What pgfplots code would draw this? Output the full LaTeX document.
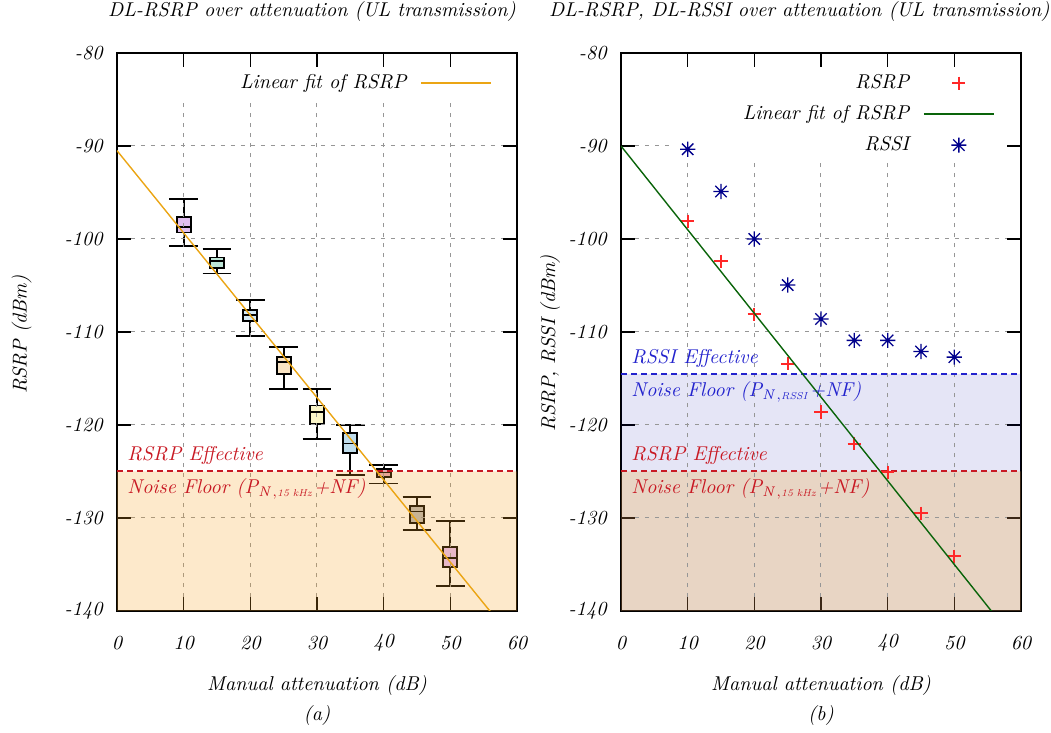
\documentclass[border=0pt]{standalone}
\usepackage{pgfplots}
\pgfplotsset{compat=1.18}
\usepgfplotslibrary{statistics}
\usepackage{xcolor}
\definecolor{fitorange}{RGB}{235,165,20}
\definecolor{fitgreen}{RGB}{10,100,10}
\definecolor{rsrpline}{RGB}{200,25,35}
\definecolor{rssiline}{RGB}{35,35,205}
\definecolor{plusmark}{RGB}{255,40,40}
\definecolor{starmark}{RGB}{0,0,140}
\definecolor{nforange}{RGB}{245,163,41}
\definecolor{lavender}{RGB}{0,0,170}
\definecolor{gridgray}{RGB}{150,150,150}
\definecolor{boxA}{RGB}{225,190,240}
\definecolor{boxB}{RGB}{190,230,215}
\definecolor{boxC}{RGB}{210,232,245}
\definecolor{boxD}{RGB}{250,228,195}
\definecolor{boxE}{RGB}{250,245,200}
\definecolor{boxF}{RGB}{190,220,235}
\definecolor{boxG}{RGB}{228,166,185}
\definecolor{boxH}{RGB}{185,185,185}
\definecolor{boxI}{RGB}{228,192,250}

% gnuplot style star: + and x together
\pgfdeclareplotmark{gpstar}{%
  \pgfpathmoveto{\pgfqpoint{-\pgfplotmarksize}{0pt}}\pgfpathlineto{\pgfqpoint{\pgfplotmarksize}{0pt}}%
  \pgfpathmoveto{\pgfqpoint{0pt}{-\pgfplotmarksize}}\pgfpathlineto{\pgfqpoint{0pt}{\pgfplotmarksize}}%
  \pgfpathmoveto{\pgfqpoint{-.75\pgfplotmarksize}{-.75\pgfplotmarksize}}\pgfpathlineto{\pgfqpoint{.75\pgfplotmarksize}{.75\pgfplotmarksize}}%
  \pgfpathmoveto{\pgfqpoint{-.75\pgfplotmarksize}{.75\pgfplotmarksize}}\pgfpathlineto{\pgfqpoint{.75\pgfplotmarksize}{-.75\pgfplotmarksize}}%
  \pgfusepathqstroke}

\tikzset{gridline/.style={dash pattern=on 2pt off 3pt, draw=gridgray, line width=0.5pt}}
\pgfplotsset{
  panel/.style={
    scale only axis, width=200pt, height=279pt,
    xmin=0, xmax=60, ymin=-140, ymax=-80,
    xtick={0,10,...,60}, ytick={-140,-130,...,-80},
    tick align=inside, major tick length=7pt,
    axis line style={line width=1pt},
    every tick/.style={black, line width=0.8pt},
    ticklabel style={font=\itshape},
    /pgf/number format/assume math mode=true,
    xticklabel style={anchor=center, yshift=-16pt},
    yticklabel style={anchor=east, xshift=-3.7pt},
    clip mode=individual,
    legend plot pos=right, legend cell align=right,
    legend style={draw=none, fill=none, inner sep=0pt, row sep=2.5pt,
      nodes={inner sep=2pt, text height=7pt, text depth=2pt, font=\itshape},
      /tikz/every odd column/.append style={column sep=5pt}},
  },
  lineleg/.style={legend image code/.code={\draw[##1] (0pt,0pt) -- (35pt,0pt);}},
  markleg/.style={legend image code/.code={\draw[##1] plot coordinates {(17.5pt,0pt)};}},
  bx/.style={forget plot, draw=black, line width=0.9pt, fill=#1,
    boxplot/draw direction=y, boxplot/box extend=2.1, boxplot/whisker extend=4.3},
}

\begin{document}
\itshape
\begin{tikzpicture}[font=\itshape]

% ---------------- (a)
\begin{axis}[panel, at={(0pt,0pt)}, anchor=south west,
  legend style={at={(axis cs:56.3,-81.8)}, anchor=north east}]
\addplot[bx=boxA, boxplot prepared={draw position=10, lower whisker=-100.75, lower quartile=-99.3, median=-98.7, upper quartile=-97.6, upper whisker=-95.7}] coordinates {};
\addplot[bx=boxB, boxplot prepared={draw position=15, lower whisker=-103.7, lower quartile=-103.1, median=-102.4, upper quartile=-102.0, upper whisker=-101.1}] coordinates {};
\addplot[bx=boxC, boxplot prepared={draw position=20, lower whisker=-110.4, lower quartile=-108.8, median=-108.2, upper quartile=-107.6, upper whisker=-106.6}] coordinates {};
\addplot[bx=boxD, boxplot prepared={draw position=25, lower whisker=-116.1, lower quartile=-114.55, median=-113.2, upper quartile=-112.65, upper whisker=-111.65}] coordinates {};
\addplot[bx=boxE, boxplot prepared={draw position=30, lower whisker=-121.5, lower quartile=-119.9, median=-118.6, upper quartile=-117.9, upper whisker=-116.1}] coordinates {};
\addplot[bx=boxF, boxplot prepared={draw position=35, lower whisker=-125.4, lower quartile=-123.0, median=-122.0, upper quartile=-120.9, upper whisker=-120.0}] coordinates {};
\addplot[bx=boxG, boxplot prepared={draw position=40, lower whisker=-126.3, lower quartile=-125.6, median=-125.1, upper quartile=-124.7, upper whisker=-124.3}] coordinates {};
\addplot[bx=boxH, boxplot prepared={draw position=45, lower whisker=-131.3, lower quartile=-130.5, median=-129.3, upper quartile=-128.7, upper whisker=-127.7}] coordinates {};
\addplot[bx=boxI, boxplot prepared={draw position=50, lower whisker=-137.3, lower quartile=-135.3, median=-134.3, upper quartile=-133.15, upper whisker=-130.3}] coordinates {};

% grid (kept out of the key area, as gnuplot does)
\draw[gridline] (axis cs:10,-138.5) -- (axis cs:10,-85.4);
\draw[gridline] (axis cs:20,-138.5) -- (axis cs:20,-85.4);
\draw[gridline] (axis cs:30,-138.5) -- (axis cs:30,-85.4);
\draw[gridline] (axis cs:40,-138.5) -- (axis cs:40,-85.4);
\draw[gridline] (axis cs:50,-138.5) -- (axis cs:50,-85.4);
\draw[gridline] (axis cs:2.1,-90) -- (axis cs:57.9,-90);
\draw[gridline] (axis cs:2.1,-100) -- (axis cs:57.9,-100);
\draw[gridline] (axis cs:2.1,-110) -- (axis cs:57.9,-110);
\draw[gridline] (axis cs:2.1,-120) -- (axis cs:57.9,-120);
\draw[gridline] (axis cs:2.1,-130) -- (axis cs:57.9,-130);

\addplot[forget plot, draw=none, fill=nforange, fill opacity=0.245]
  coordinates {(0,-125) (60,-125) (60,-140) (0,-140) (0,-125)};
\addplot[forget plot, draw=rsrpline, line width=1pt, dash pattern=on 3pt off 2pt]
  coordinates {(0,-125) (60,-125)};

\addplot[lineleg, draw=fitorange, line width=0.7pt] coordinates {(0,-90.5) (60,-143.6)};
\addlegendentry{Linear fit of RSRP}

\node[anchor=west, inner sep=0pt, text=rsrpline] at (axis cs:1.5,-123.3) {RSRP Effective};
\node[anchor=west, inner sep=0pt, text=rsrpline] at (axis cs:1.5,-126.9) {Noise Floor ($\mathit{P}_{\mathit{N},\scriptscriptstyle\mathit{15\,kHz}}$+NF)};

\node at (rel axis cs:0.4875,1.0735) {DL-RSRP over attenuation (UL transmission)};
\node at (rel axis cs:0.5,-0.1344) {Manual attenuation (dB)};
\node at (rel axis cs:0.5,-0.188) {(a)};
\node[rotate=90] at (rel axis cs:-0.2385,0.495) {RSRP (dBm)};
\end{axis}

% ---------------- (b)
\begin{axis}[panel, at={(252pt,0pt)}, anchor=south west,
  legend style={at={(axis cs:56.1,-81.8)}, anchor=north east}]
\addplot[forget plot, draw=none, fill=lavender, fill opacity=0.1]
  coordinates {(0,-114.5) (60,-114.5) (60,-140) (0,-140) (0,-114.5)};
\addplot[forget plot, draw=none, fill=nforange, fill opacity=0.245]
  coordinates {(0,-125) (60,-125) (60,-140) (0,-140) (0,-125)};

\draw[gridline] (axis cs:10,-138.5) -- (axis cs:10,-91.7);
\draw[gridline] (axis cs:20,-138.5) -- (axis cs:20,-91.7);
\draw[gridline] (axis cs:30,-138.5) -- (axis cs:30,-91.7);
\draw[gridline] (axis cs:40,-138.5) -- (axis cs:40,-91.7);
\draw[gridline] (axis cs:50,-138.5) -- (axis cs:50,-91.7);
\draw[gridline] (axis cs:2.1,-90) -- (axis cs:7.4,-90);
\draw[gridline] (axis cs:2.1,-100) -- (axis cs:57.9,-100);
\draw[gridline] (axis cs:2.1,-110) -- (axis cs:57.9,-110);
\draw[gridline] (axis cs:2.1,-120) -- (axis cs:57.9,-120);
\draw[gridline] (axis cs:2.1,-130) -- (axis cs:57.9,-130);

\addplot[forget plot, draw=rssiline, line width=0.8pt, dash pattern=on 3pt off 2pt]
  coordinates {(0,-114.5) (60,-114.5)};
\addplot[forget plot, draw=rsrpline, line width=1pt, dash pattern=on 3pt off 2pt]
  coordinates {(0,-125) (60,-125)};

\addplot[markleg, only marks, mark=+, mark size=3.3pt, draw=plusmark, mark options={draw=plusmark}, line width=0.95pt]
  coordinates {(10,-98.1) (15,-102.4) (20,-108.1) (25,-113.4) (30,-118.6) (35,-122.0) (40,-125.1) (45,-129.5) (50,-134.1)};
\addlegendentry{RSRP}
\addplot[lineleg, draw=fitgreen, line width=0.7pt] coordinates {(0,-90) (60,-144)};
\addlegendentry{Linear fit of RSRP}
\addplot[markleg, only marks, mark=gpstar, mark size=3.8pt, draw=starmark, mark options={draw=starmark}, line width=0.65pt]
  coordinates {(10,-90.35) (15,-94.9) (20,-100.0) (25,-104.95) (30,-108.6) (35,-110.9) (40,-110.9) (45,-112.1) (50,-112.7)};
\addlegendentry{RSSI}

\node[anchor=west, inner sep=0pt, text=rssiline] at (axis cs:1.5,-112.8) {RSSI Effective};
\node[anchor=west, inner sep=0pt, text=rssiline] at (axis cs:1.5,-116.45) {Noise Floor ($\mathit{P}_{\mathit{N},\scriptscriptstyle\mathit{RSSI}}$+NF)};
\node[anchor=west, inner sep=0pt, text=rsrpline] at (axis cs:1.5,-123.3) {RSRP Effective};
\node[anchor=west, inner sep=0pt, text=rsrpline] at (axis cs:1.5,-126.9) {Noise Floor ($\mathit{P}_{\mathit{N},\scriptscriptstyle\mathit{15\,kHz}}$+NF)};

\node at (rel axis cs:0.446,1.0735) {DL-RSRP, DL-RSSI over attenuation (UL transmission)};
\node at (rel axis cs:0.5,-0.1344) {Manual attenuation (dB)};
\node at (rel axis cs:0.5,-0.188) {(b)};
\node[rotate=90] at (rel axis cs:-0.1775,0.48) {RSRP, RSSI (dBm)};
\end{axis}

\pgfresetboundingbox
\path[use as bounding box] (-58.5pt,-61pt) rectangle (467pt,305.5pt);
\end{tikzpicture}
\end{document}
